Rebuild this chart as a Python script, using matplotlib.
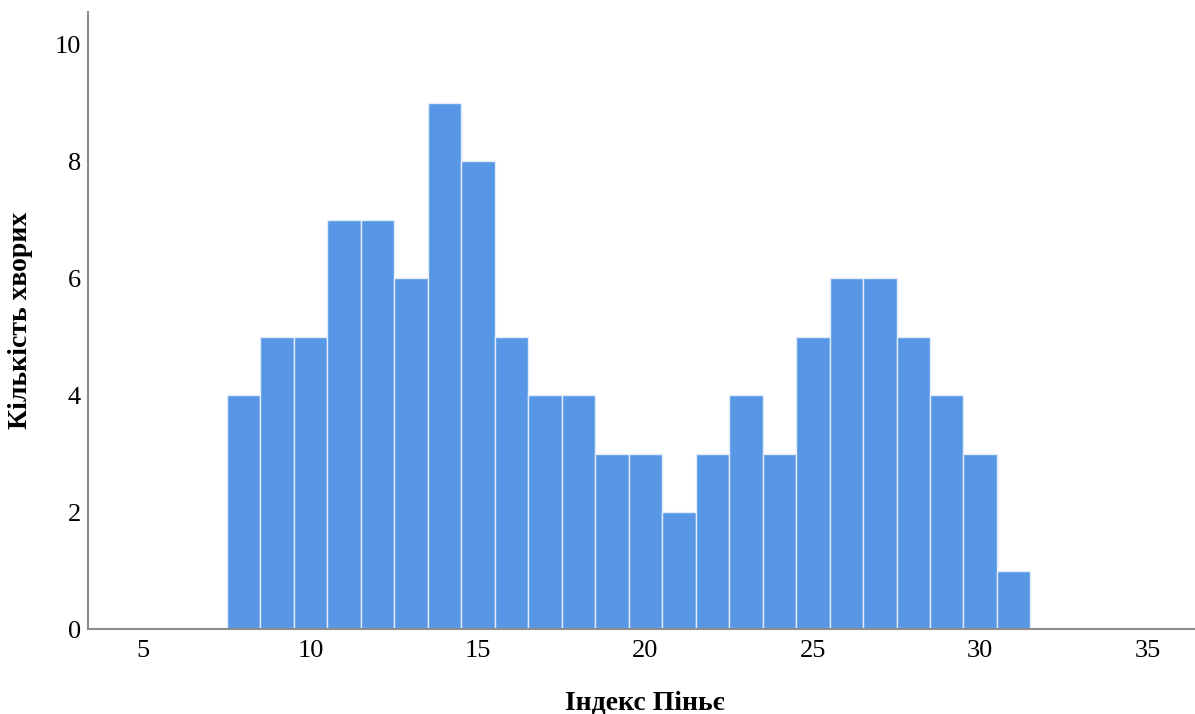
import matplotlib
matplotlib.use("Agg")
import matplotlib.pyplot as plt

# Histogram of Pignet index (bin centres and counts)
bin_centres = [8, 9, 10, 11, 12, 13, 14, 15, 16, 17, 18, 19, 20, 21, 22,
               23, 24, 25, 26, 27, 28, 29, 30, 31]
counts = [4, 5, 5, 7, 7, 6, 9, 8, 5, 4, 4, 3, 3, 2, 3,
          4, 3, 5, 6, 6, 5, 4, 3, 1]
x_ticks = [5, 10, 15, 20, 25, 30, 35]
y_ticks = [0, 2, 4, 6, 8, 10]

plt.rcParams['font.family'] = ['Liberation Serif', 'DejaVu Serif']

fig = plt.figure(figsize=(11.95, 7.14), dpi=100)
ax = fig.add_axes([0.0736, 0.119, 0.926, 0.864])

ax.bar(bin_centres, counts, width=1.0, color="#5797e6",
       edgecolor="#e2edfb", linewidth=1.0)

ax.set_xlim(3.35, 36.4)
ax.set_ylim(0, 10.55)
ax.set_xticks(x_ticks)
ax.set_yticks(y_ticks)
ax.tick_params(length=0, labelsize=19)
ax.tick_params(axis='x', pad=8)
ax.tick_params(axis='y', pad=5)

for side in ("top", "right"):
    ax.spines[side].set_visible(False)
for side in ("left", "bottom"):
    ax.spines[side].set_color("#8c8c8c")
    ax.spines[side].set_linewidth(1.5)

ax.set_xlabel("Індекс Піньє", fontsize=20, fontweight="bold")
ax.set_ylabel("Кількість хворих", fontsize=20, fontweight="bold")
ax.xaxis.set_label_coords(0.503, -0.1)
ax.yaxis.set_label_coords(-0.05, 0.5)

fig.savefig("out.png", dpi=100)
